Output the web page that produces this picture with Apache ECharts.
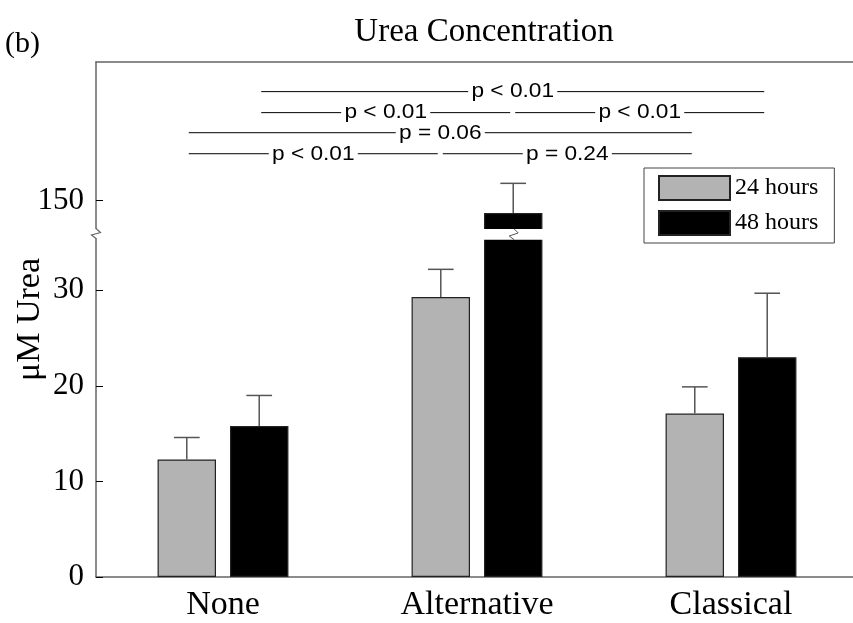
<!DOCTYPE html>
<html>
<head>
<meta charset="utf-8">
<title>Urea Concentration</title>
<script src="https://cdn.jsdelivr.net/npm/echarts@6/dist/echarts.min.js"></script>
<style>
  html, body { margin: 0; padding: 0; background: #fff; }
  #chart { width: 853px; height: 623px; }
</style>
</head>
<body>
<div id="chart"></div>
<script>
// Urea concentration by treatment: mean and upper error (µM)
const categories = ['None', 'Alternative', 'Classical'];
const seriesNames = ['24 hours', '48 hours'];
const urea24 = [12.3, 29.3, 17.1];
const err24 = [2.3, 2.9, 2.8];
const urea48 = [15.8, 148.7, 23.0];
const err48 = [3.2, 3.1, 6.7];
const yTickValues = [0, 10, 20, 30, 150];

// Pairwise comparisons: [category, series] at each end, bracket row, label
const cmpFrom = [[0, 1], [0, 1], [1, 1], [0, 0], [0, 0], [1, 0]];
const cmpTo = [[2, 1], [1, 1], [2, 1], [2, 0], [1, 0], [2, 0]];
const cmpRow = [0, 1, 1, 2, 3, 3];
const cmpLabel = ['p < 0.01', 'p < 0.01', 'p < 0.01', 'p = 0.06', 'p < 0.01', 'p = 0.24'];

// ---- layout ----
const SERIF = '"Liberation Serif", "Times New Roman", serif';
const SANS = '"Liberation Sans", Arial, sans-serif';
const AXIS_COLOR = '#666';
const BAR_FRAC = 0.23;      // bar width as a fraction of the category band
const GAP_FRAC = 0.24;      // gap between paired bars, fraction of bar width
const Y_MAX = 53.9;         // top of the (compressed) value axis
const ROW_LEVEL = [161.4, 159.2, 157.1, 154.9]; // heights of the comparison rows

// The value axis is broken: everything between BREAK_LOW and BREAK_HIGH is cut out.
const BREAK_LOW = 35.9;
const BREAK_HIGH = 146.5;
const SHIFT = BREAK_HIGH - BREAK_LOW;
const toAxis = v => (v > BREAK_LOW ? v - SHIFT : v);
const fromAxis = a => (a > BREAK_LOW + 1e-9 ? a + SHIFT : a);

const values = [urea24, urea48];
const errors = [err24, err48];

function barCenter(api, cat, s) {
  const band = api.size([1, 0])[0];
  const off = band * BAR_FRAC * (1 + GAP_FRAC) / 2;
  return api.coord([cat, 0])[0] + (s === 0 ? -off : off);
}

// error bars (upper half only)
const errData = [];
values.forEach((arr, s) => arr.forEach((v, i) => {
  errData.push([i, s, toAxis(v), toAxis(v + errors[s][i])]);
}));

// bars that cross the axis break
const brokenBars = [];
values.forEach((arr, s) => arr.forEach((v, i) => { if (v > BREAK_HIGH) brokenBars.push([i, s]); }));

const zig = (x, y, pts) => pts.map(p => [x + p[0], y + p[1]]);

const chart = echarts.init(document.getElementById('chart'), null, { renderer: 'canvas' });

chart.setOption({
  animation: false,
  backgroundColor: '#fff',
  title: {
    text: 'Urea Concentration',
    left: 479,
    top: 11,
    textAlign: 'center',
    textStyle: { fontFamily: SERIF, fontSize: 33, fontWeight: 'normal', color: '#000' }
  },
  graphic: [{
    type: 'text',
    left: 5,
    top: 29,
    style: { text: '(b)', font: '30px ' + SERIF, fill: '#000' }
  }],
  legend: {
    data: seriesNames,
    orient: 'vertical',
    left: 644,
    top: 168,
    padding: [7, 16, 7, 14],
    itemGap: 9,
    itemWidth: 71,
    itemHeight: 24,
    icon: 'rect',
    selectedMode: false,
    backgroundColor: '#fff',
    borderColor: '#444',
    borderWidth: 1,
    textStyle: { fontFamily: SERIF, fontSize: 24, color: '#000' }
  },
  grid: {
    left: 96,
    top: 62,
    width: 762,
    height: 515,
    containLabel: false,
    outerBoundsMode: 'none'
  },
  xAxis: [{
    type: 'category',
    data: categories,
    position: 'bottom',
    axisLine: { lineStyle: { color: AXIS_COLOR, width: 1.5 } },
    axisTick: { inside: true, alignWithLabel: true, length: 6, lineStyle: { color: '#000' } },
    axisLabel: { fontFamily: SERIF, fontSize: 34, color: '#000', margin: 11 },
    splitLine: { show: false }
  }, {
    type: 'category',
    data: categories,
    position: 'top',
    axisLine: { lineStyle: { color: AXIS_COLOR, width: 1.5 } },
    axisTick: { inside: true, alignWithLabel: true, length: 7, lineStyle: { color: '#000' } },
    axisLabel: { show: false },
    splitLine: { show: false }
  }],
  yAxis: {
    type: 'value',
    min: 0,
    max: Y_MAX,
    name: 'μM Urea',
    nameLocation: 'middle',
    nameGap: 49,
    nameMoveOverlap: false,
    nameTextStyle: { fontFamily: SERIF, fontSize: 34, color: '#000' },
    axisLine: { show: true, lineStyle: { color: AXIS_COLOR, width: 1.5 } },
    axisTick: { show: true, inside: true, length: 7, customValues: yTickValues.map(toAxis), lineStyle: { color: '#000' } },
    axisLabel: {
      customValues: yTickValues.map(toAxis),
      formatter: v => String(Math.round(fromAxis(v))),
      fontFamily: SERIF, fontSize: 31, color: '#000', margin: 12
    },
    splitLine: { show: false }
  },
  series: [{
    type: 'bar',
    name: seriesNames[0],
    data: urea24.map(toAxis),
    barWidth: (BAR_FRAC * 100) + '%',
    barGap: (GAP_FRAC * 100) + '%',
    itemStyle: { color: '#b3b3b3', borderColor: '#222', borderWidth: 1.2 }
  }, {
    type: 'bar',
    name: seriesNames[1],
    data: urea48.map(toAxis),
    barWidth: (BAR_FRAC * 100) + '%',
    barGap: (GAP_FRAC * 100) + '%',
    itemStyle: { color: '#000', borderColor: '#222', borderWidth: 1.2 }
  }, {
    // error bars
    type: 'custom',
    name: 'error',
    silent: true,
    clip: false,
    z: 3,
    data: errData,
    renderItem(params, api) {
      const i = api.value(0), s = api.value(1);
      const cx = barCenter(api, i, s);
      const y0 = api.coord([i, api.value(2)])[1];
      const y1 = api.coord([i, api.value(3)])[1];
      const half = api.size([1, 0])[0] * BAR_FRAC * 0.22;
      const st = { stroke: '#555', lineWidth: 1.5 };
      return {
        type: 'group',
        children: [
          { type: 'line', shape: { x1: cx, y1: y0, x2: cx, y2: y1 }, style: st },
          { type: 'line', shape: { x1: cx - half, y1: y1, x2: cx + half, y2: y1 }, style: st }
        ]
      };
    }
  }, {
    // break marks across bars that pass the cut
    type: 'custom',
    name: 'barBreak',
    silent: true,
    clip: false,
    z: 4,
    data: brokenBars,
    renderItem(params, api) {
      const i = api.value(0), s = api.value(1);
      const cx = barCenter(api, i, s);
      const w = api.size([1, 0])[0] * BAR_FRAC;
      const by = api.coord([i, BREAK_LOW])[1];
      return {
        type: 'group',
        children: [
          { type: 'rect', shape: { x: cx - w / 2 - 1.5, y: by - 5, width: w + 3, height: 10.8 }, style: { fill: '#fff' } },
          { type: 'polyline', shape: { points: zig(cx + 1, by, [[0, -5], [4, -1], [-5, 2], [0, 5.8]]) }, style: { stroke: '#555', lineWidth: 1, fill: null } }
        ]
      };
    }
  }, {
    // break mark on the value axis
    type: 'custom',
    name: 'axisBreak',
    silent: true,
    clip: false,
    z: 4,
    data: [[0, BREAK_LOW]],
    renderItem(params, api) {
      const ax = params.coordSys.x;
      const by = api.coord([0, BREAK_LOW])[1] - 1;
      return {
        type: 'group',
        children: [
          { type: 'rect', shape: { x: ax - 6, y: by - 4, width: 12, height: 9 }, style: { fill: '#fff' } },
          { type: 'polyline', shape: { points: zig(ax, by, [[0, -4.5], [4.5, -0.5], [-4.5, 2], [0, 5.5]]) }, style: { stroke: AXIS_COLOR, lineWidth: 1.2, fill: null } }
        ]
      };
    }
  }, {
    // significance brackets
    type: 'custom',
    name: 'comparisons',
    silent: true,
    clip: false,
    z: 5,
    data: cmpLabel.map((t, k) => [k, toAxis(ROW_LEVEL[cmpRow[k]])]),
    renderItem(params, api) {
      const k = api.value(0);
      const xa = barCenter(api, cmpFrom[k][0], cmpFrom[k][1]) + 2;
      const xb = barCenter(api, cmpTo[k][0], cmpTo[k][1]) - 3;
      const y = api.coord([0, api.value(1)])[1];
      return {
        type: 'group',
        children: [
          { type: 'line', shape: { x1: xa, y1: y, x2: xb, y2: y }, style: { stroke: '#000', lineWidth: 1 } },
          {
            type: 'text', x: (xa + xb) / 2, y: y, scaleX: 1.08, z2: 10,
            style: {
              text: cmpLabel[k], x: 0, y: 0, align: 'center', verticalAlign: 'middle',
              font: '21px ' + SANS, fill: '#000', backgroundColor: '#fff', padding: [0, 3]
            }
          }
        ]
      };
    }
  }]
});
</script>
</body>
</html>
